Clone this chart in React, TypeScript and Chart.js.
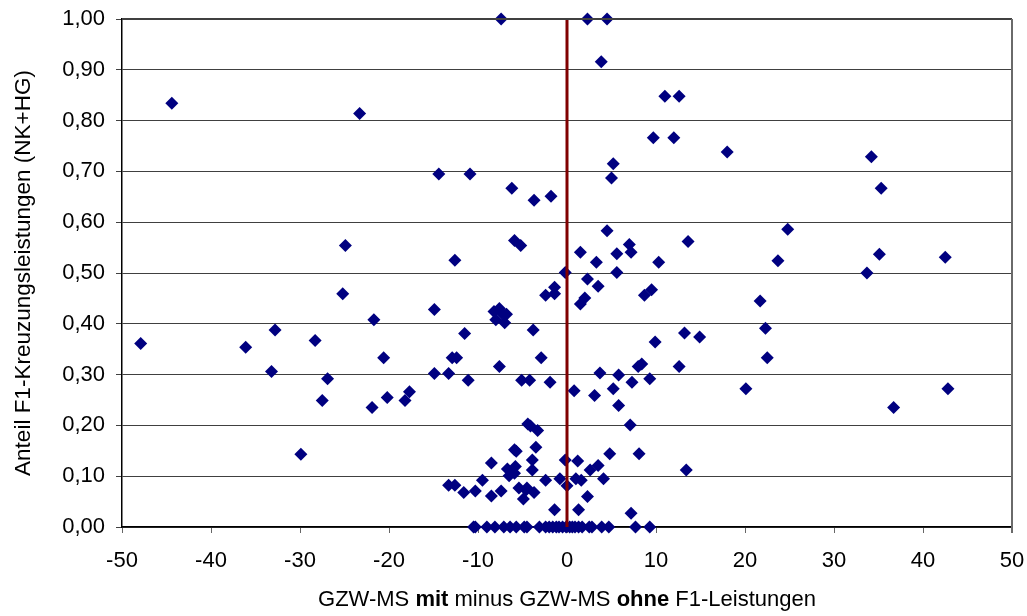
import React, { useEffect, useRef } from "react";
import { Chart, registerables } from "chart.js";

Chart.register(...registerables);

const xValues: number[] = [
  -44.4, -23.3, -24.9, -7.4, 2.3, 4.5, 3.85, 11.0, 12.6, 9.7, 12.0, 5.2, 5.0, -14.4, -10.9, -6.2, -3.7, -1.8,
  4.5, -5.9, -5.2, -12.6, 1.5, 3.3, 5.6, 7.0, 7.2, 10.3, -0.2, 2.3, 5.6, 18.0, 34.2, 35.3, 13.6, 24.8, 23.7,
  35.1, 42.5, 33.7,
  -47.9, -36.1, -32.8, -33.2, -28.3, -26.9, -27.5, -25.2, -29.9, -21.7, -20.6, -21.9, -20.2, -18.2, -17.7,
  -14.9, -14.9, -13.3, -11.5, -11.1, -12.9, -12.4, -13.3, -12.6, -11.6, -10.3, -9.5, -8.5, -8.5, -7.4,
  -8.2, -7.6, -7.3, -6.8, -8.0, -7.0, -7.6, -6.7, -5.8, -5.9, -6.5, -5.9, -5.7, -5.4, -4.6, -4.9, -3.7, -4.5,
  -5.1, -4.2, -4.4, -4.1, -3.3, -3.5, -3.9, -3.9, -3.8, -2.9, -1.9, -2.4, -1.4, -1.4, -2.4, -0.8, -1.4, -0.2,
  0.0, 0.8, 1.2, 1.0, 1.6, 1.3, 2.3, 3.5, 1.5, 2.0, 2.6, 3.5, 4.1, 3.1, 3.7, 4.8, 5.2, 5.8, 5.8, 7.3, 7.1,
  8.1, 7.2, 8.0, 8.4, 8.7, 9.5, 9.3, 9.9, 13.2, 14.9, 12.6, 13.4, 20.1, 21.7, 22.3, 22.5, 36.7, 42.8,
  -10.5, -10.3, -9.0, -8.1, -7.1, -6.4, -5.7, -4.8, -4.5, -3.1, -2.4, -2.0, -1.6, -1.2, -0.9, -0.5, -0.1, 0.3,
  0.6, 0.9, 1.3, 1.7, 2.5, 2.8, 3.9, 4.7, 7.7, 9.3,
];

const yValues: number[] = [
  0.834, 0.814, 0.554, 1.0, 1.0, 1.0, 0.916, 0.848, 0.848, 0.766, 0.766, 0.715, 0.687, 0.695, 0.695, 0.667,
  0.643, 0.651, 0.583, 0.564, 0.554, 0.525, 0.541, 0.521, 0.538, 0.556, 0.541, 0.521, 0.501, 0.488, 0.501,
  0.738, 0.729, 0.667, 0.562, 0.586, 0.524, 0.537, 0.531, 0.5,
  0.361, 0.354, 0.388, 0.306, 0.367, 0.292, 0.249, 0.459, 0.143, 0.408, 0.333, 0.235, 0.255, 0.249, 0.266,
  0.428, 0.302, 0.302, 0.381, 0.289, 0.333, 0.333, 0.082, 0.082, 0.068, 0.071, 0.092, 0.126, 0.061, 0.071,
  0.424, 0.43, 0.421, 0.419, 0.408, 0.402, 0.316, 0.114, 0.119, 0.106, 0.101, 0.152, 0.149, 0.077, 0.073,
  0.055, 0.068, 0.077,
  0.289, 0.289, 0.203, 0.199, 0.19, 0.157, 0.132, 0.112, 0.388, 0.333, 0.285, 0.456, 0.472, 0.459, 0.092,
  0.095, 0.034, 0.132,
  0.081, 0.268, 0.13, 0.095, 0.092, 0.034, 0.06, 0.474, 0.439, 0.451, 0.112, 0.121, 0.095, 0.259, 0.303,
  0.144, 0.272, 0.299, 0.239, 0.285, 0.201,
  0.144, 0.027, 0.316, 0.321, 0.456, 0.467, 0.292, 0.364, 0.382, 0.374, 0.316, 0.112, 0.272, 0.445, 0.391,
  0.333, 0.235, 0.272,
  0, 0, 0, 0, 0, 0, 0, 0, 0, 0, 0, 0, 0, 0, 0, 0, 0, 0,
  0, 0, 0, 0, 0, 0, 0, 0, 0, 0,
];

const refLineX: number[] = [0, 0];
const refLineY: number[] = [0, 1];

const xTitleParts: { text: string; bold: boolean }[] = [
  { text: "GZW-MS ", bold: false },
  { text: "mit", bold: true },
  { text: " minus GZW-MS ", bold: false },
  { text: "ohne", bold: true },
  { text: " F1-Leistungen", bold: false },
];
const yTitle = "Anteil F1-Kreuzungsleistungen (NK+HG)";

const FONT = "'Liberation Sans', Arial, sans-serif";

export default function App() {
  const canvasRef = useRef<HTMLCanvasElement | null>(null);

  useEffect(() => {
    document.body.style.margin = "0";
    const canvas = canvasRef.current;
    if (!canvas) return;

    const titlesPlugin = {
      id: "titlesPlugin",
      afterDraw(chart: any) {
        const ctx = chart.ctx as CanvasRenderingContext2D;
        const area = chart.chartArea;
        ctx.save();
        ctx.strokeStyle = "#404040";
        ctx.lineWidth = 2;
        ctx.beginPath();
        ctx.moveTo(area.left, area.top);
        ctx.lineTo(area.right, area.top);
        ctx.stroke();
        ctx.strokeStyle = "#6a6a6a";
        ctx.lineWidth = 2;
        ctx.beginPath();
        ctx.moveTo(area.right, area.top);
        ctx.lineTo(area.right, area.bottom + 6);
        ctx.stroke();

        ctx.fillStyle = "#000";
        ctx.textBaseline = "middle";
        ctx.textAlign = "left";
        const xSize = 22;
        let total = 0;
        const widths = xTitleParts.map((p) => {
          ctx.font = `${p.bold ? "bold " : ""}${xSize}px ${FONT}`;
          const w = ctx.measureText(p.text).width;
          total += w;
          return w;
        });
        let x = (area.left + area.right) / 2 - total / 2;
        xTitleParts.forEach((p, i) => {
          ctx.font = `${p.bold ? "bold " : ""}${xSize}px ${FONT}`;
          ctx.fillText(p.text, x, 600);
          x += widths[i];
        });

        ctx.translate(24, (area.top + area.bottom) / 2);
        ctx.rotate(-Math.PI / 2);
        ctx.textAlign = "center";
        ctx.font = `22.5px ${FONT}`;
        ctx.fillText(yTitle, 0, 0);
        ctx.restore();
      },
    };

    const chart = new Chart(canvas, {
      type: "scatter",
      data: {
        datasets: [
          {
            type: "line",
            data: refLineX.map((x, i) => ({ x, y: refLineY[i] })),
            borderColor: "#800000",
            borderWidth: 3,
            pointRadius: 0,
            fill: false,
          } as any,
          {
            data: xValues.map((x, i) => ({ x, y: yValues[i] })),
            backgroundColor: "#000080",
            borderColor: "#000080",
            borderWidth: 0,
            pointStyle: "rectRot",
            pointRadius: 6.5,
            pointHoverRadius: 6.5,
            clip: false,
          } as any,
        ],
      },
      options: {
        animation: false,
        responsive: false,
        maintainAspectRatio: false,
        layout: { padding: { top: 19, right: 15, left: 0, bottom: 0 } },
        plugins: {
          legend: { display: false },
          tooltip: { enabled: false },
          title: { display: false },
        },
        scales: {
          x: {
            type: "linear",
            min: -50,
            max: 50,
            afterFit: (scale: any) => {
              scale.height = 89;
              scale.paddingLeft = 0;
              scale.paddingRight = 0;
            },
            ticks: {
              stepSize: 10,
              color: "#000",
              padding: 15,
              font: { size: 22, family: FONT },
              maxRotation: 0,
            },
            grid: {
              drawOnChartArea: false,
              drawTicks: true,
              tickLength: 6,
              color: "#666",
            },
            border: { color: "#000", width: 1.5 },
          },
          y: {
            type: "linear",
            min: 0,
            max: 1,
            afterFit: (scale: any) => {
              scale.width = 122;
              scale.paddingTop = 0;
              scale.paddingBottom = 0;
            },
            ticks: {
              stepSize: 0.1,
              color: "#000",
              padding: 11,
              font: { size: 22, family: FONT },
              callback: (v: any) => Number(v).toFixed(2).replace(".", ","),
            },
            grid: {
              color: "#404040",
              lineWidth: 1,
              drawTicks: true,
              tickLength: 6,
            },
            border: { color: "#000", width: 1.5 },
          },
        },
      },
      plugins: [titlesPlugin],
    });

    return () => chart.destroy();
  }, []);

  return (
    <div style={{ width: 1027, height: 616, position: "relative" }}>
      <canvas ref={canvasRef} width={1027} height={616} style={{ display: "block" }} />
    </div>
  );
}
